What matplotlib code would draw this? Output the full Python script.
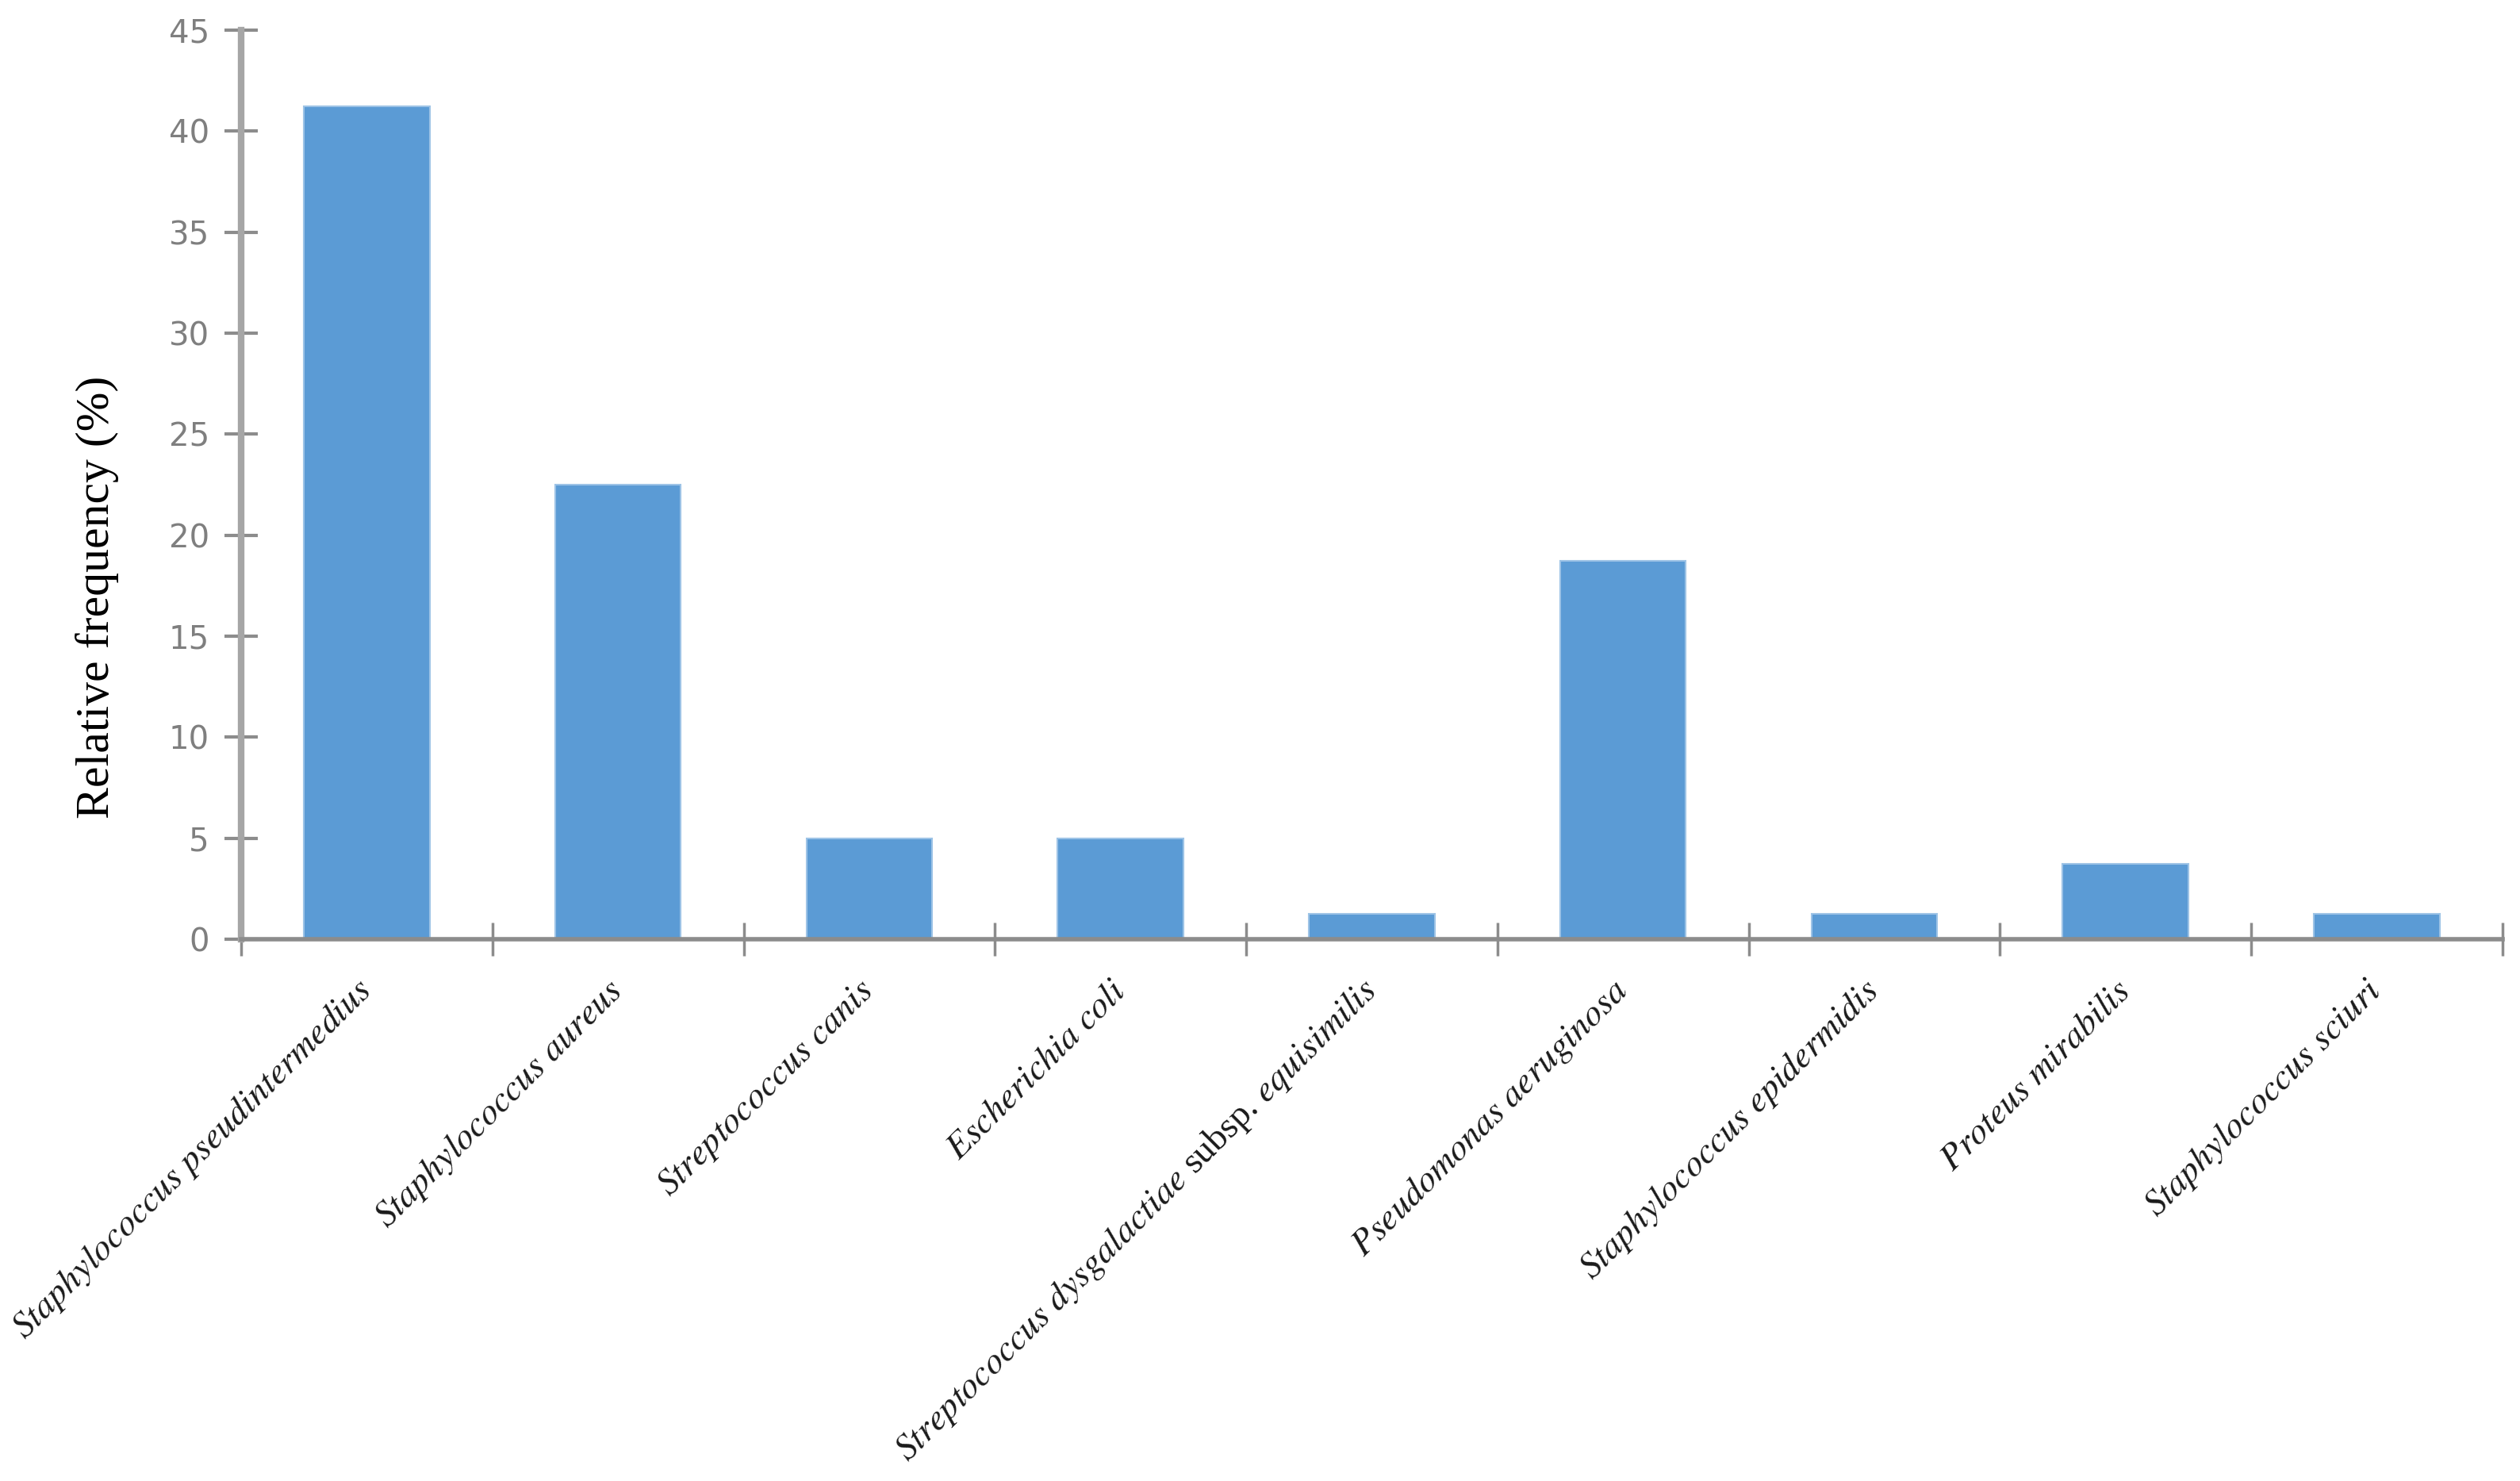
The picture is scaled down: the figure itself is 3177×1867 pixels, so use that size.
import numpy as np
import matplotlib
matplotlib.use("Agg")
import matplotlib.pyplot as plt

plt.rcParams['mathtext.fontset'] = 'stix'

species = [
    r"$\mathit{Staphylococcus\ pseudintermedius}$",
    r"$\mathit{Staphylococcus\ aureus}$",
    r"$\mathit{Streptococcus\ canis}$",
    r"$\mathit{Escherichia\ coli}$",
    r"$\mathit{Streptococcus\ dysgalactiae}$ subsp. $\mathit{equisimilis}$",
    r"$\mathit{Pseudomonas\ aeruginosa}$",
    r"$\mathit{Staphylococcus\ epidermidis}$",
    r"$\mathit{Proteus\ mirabilis}$",
    r"$\mathit{Staphylococcus\ sciuri}$",
]
frequency = [41.25, 22.5, 5, 5, 1.25, 18.75, 1.25, 3.75, 1.25]
yticks = [0, 5, 10, 15, 20, 25, 30, 35, 40, 45]

fig = plt.figure(figsize=(31.77, 18.67), dpi=100)
ax = fig.add_axes([0.0957, 0.3658, 0.8973, 0.6138])

x = np.arange(len(species))
ax.bar(x, frequency, width=0.5, color="#5B9BD5", edgecolor="#9DC3E6", linewidth=1.5, zorder=2)

ax.set_xlim(-0.5, len(species) - 0.5)
ax.set_ylim(0, 45)
ax.set_yticks(yticks)
ax.set_yticklabels([str(t) for t in yticks], fontsize=29, color="#7f7f7f", family="DejaVu Sans")

# category separators as ticks, names at the bar centres
ax.set_xticks(np.arange(-0.5, len(species), 1.0))
ax.set_xticklabels([])
ax.set_xticks(x, minor=True)
ax.set_xticklabels(species, minor=True, rotation=45, ha="right", va="center",
                   rotation_mode="anchor", fontsize=33, color="#1a1a1a",
                   family="Liberation Serif")
ax.tick_params(axis="x", which="minor", length=0, pad=42)
ax.tick_params(axis="x", which="major", direction="inout", length=30, width=2.5, color="#8c8c8c")
ax.tick_params(axis="y", direction="inout", length=30, width=3, color="#8c8c8c", pad=14)

for s in ["top", "right"]:
    ax.spines[s].set_visible(False)
ax.spines["left"].set_color("#a6a6a6")
ax.spines["left"].set_linewidth(6)
ax.spines["bottom"].set_color("#8c8c8c")
ax.spines["bottom"].set_linewidth(4)

ax.set_ylabel("Relative frequency (%)", fontsize=43, family="Liberation Serif")
ax.yaxis.set_label_coords(-0.054, 0.376)

fig.savefig("out.png", dpi=100)
